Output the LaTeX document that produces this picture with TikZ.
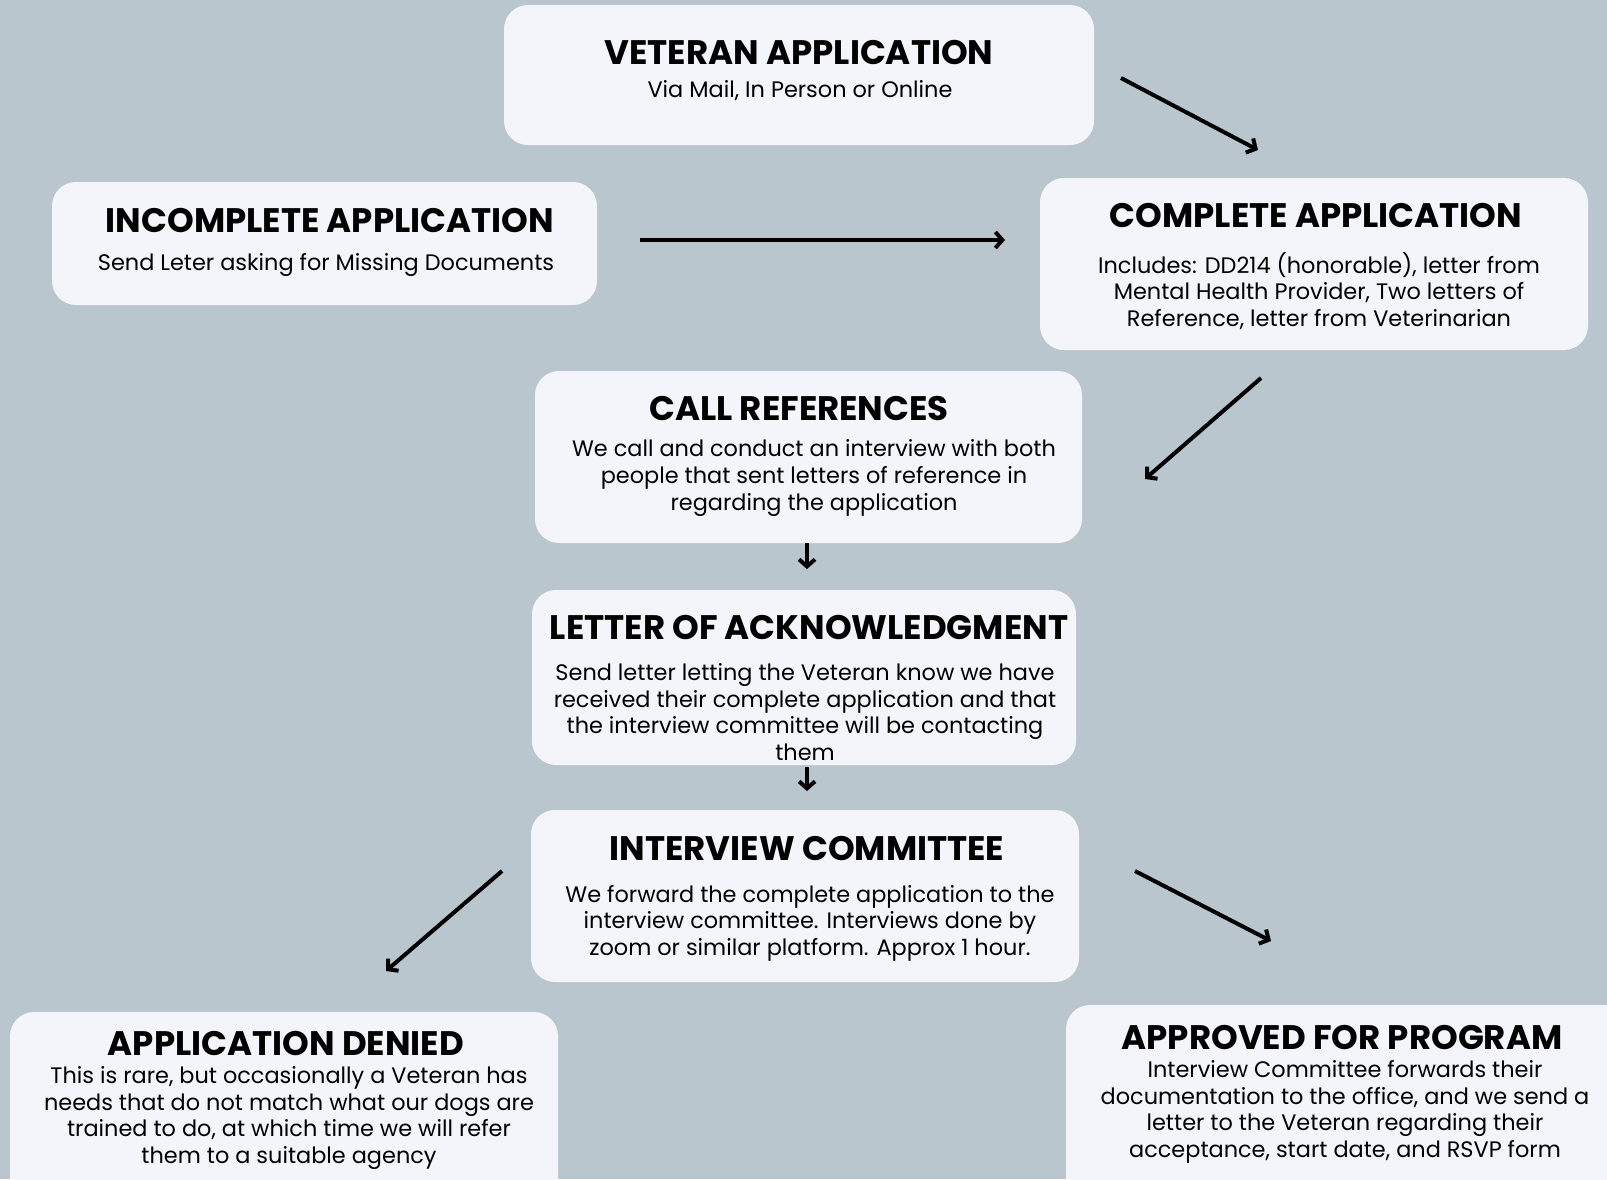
\documentclass[tikz,border=0pt]{standalone}
\usepackage{fontspec}
\setmainfont{Poppins}
\usetikzlibrary{arrows.meta}
\definecolor{bgblue}{HTML}{B9C6CE}
\definecolor{boxwhite}{HTML}{F4F5FA}

\begin{document}
\begin{tikzpicture}[x=1pt,y=-1pt,->,>={Straight Barb[length=7pt,width=16pt]},line width=4pt,
  box/.style={fill=boxwhite,rounded corners=24pt,inner sep=0pt},
  title/.style={font=\fontsize{34}{38}\selectfont\bfseries,inner sep=0pt},
  body/.style={font=\fontsize{22.4}{26.6}\selectfont,align=center,inner sep=0pt}]
  \clip (0,0) rectangle (1607,1179);
  \fill[bgblue] (0,0) rectangle (1607,1179);

  % boxes
  \node[box,minimum width=590pt,minimum height=140pt] (vet) at (799,75) {};
  \node[box,minimum width=545pt,minimum height=123pt] (inc) at (324.5,243.5) {};
  \node[box,minimum width=548pt,minimum height=172pt] (comp) at (1314,264) {};
  \node[box,minimum width=547pt,minimum height=172pt] (call) at (808.5,457) {};
  \node[box,minimum width=544pt,minimum height=175pt] (ack) at (804,677.5) {};
  \node[box,minimum width=548pt,minimum height=172pt] (intv) at (805,896) {};
  \node[box,minimum width=548pt,minimum height=200pt] (deny) at (284,1112) {};
  \node[box,minimum width=564pt,minimum height=200pt] (appr) at (1348,1105) {};

  % texts
  \node[title] (vett) at (799,53) {VETERAN APPLICATION};
  \node[body] (vetb) at (800,91) {Via Mail, In Person or Online};
  \node[title] (inct) at (330,221) {INCOMPLETE APPLICATION};
  \node[body] (incb) at (326,265) {Send Leter asking for Missing Documents};
  \node[title] (compt) at (1316,216) {COMPLETE APPLICATION};
  \node[body] (compb) at (1319,291) {Includes: DD214 (honorable), letter from\\
    Mental Health Provider, Two letters of\\ Reference, letter from Veterinarian};
  \node[title] (callt) at (799,409) {CALL REFERENCES};
  \node[body] (callb) at (814,478) {We call and conduct an interview with both\\
    people that sent letters of reference in\\ regarding the application};
  \node[title] (ackt) at (809,628) {LETTER OF ACKNOWLEDGMENT};
  \node[body] (ackb) at (805,712) {Send letter letting the Veteran know we have\\
    received their complete application and that\\
    the interview committee will be contacting\\ them};
  \node[title] (intvt) at (807,849) {INTERVIEW COMMITTEE};
  \node[body] (intvb) at (810,923) {We forward the complete application to the\\
    interview committee. Interviews done by\\ zoom or similar platform. Approx 1 hour.};
  \node[title] (denyt) at (286,1043) {APPLICATION DENIED};
  \node[body] (denyb) at (289,1118) {This is rare, but occasionally a Veteran has\\
    needs that do not match what our dogs are\\
    trained to do, at which time we will refer\\ them to a suitable agency};
  \node[title] (apprt) at (1342,1037) {APPROVED FOR PROGRAM};
  \node[body] (apprb) at (1345,1112) {Interview Committee forwards their\\
    documentation to the office, and we send a\\
    letter to the Veteran regarding their\\ acceptance, start date, and RSVP form};

  % arrow ends
  \coordinate (a1) at (1121,78);  \coordinate (b1) at (1258,150);
  \coordinate (a2) at (640,240);  \coordinate (b2) at (1005,240);
  \coordinate (a3) at (1261,378); \coordinate (b3) at (1145,479);
  \coordinate (a4) at (807,543);  \coordinate (b4) at (807,569);
  \coordinate (a5) at (807,767);  \coordinate (b5) at (807,791);
  \coordinate (a6) at (502,871);  \coordinate (b6) at (386,971);
  \coordinate (a7) at (1135,871); \coordinate (b7) at (1271,941);

  \draw (a1) -- (b1);
  \draw (a2) -- (b2);
  \draw (a3) -- (b3);
  \draw (a4) -- (b4);
  \draw (a5) -- (b5);
  \draw (a6) -- (b6);
  \draw (a7) -- (b7);
\end{tikzpicture}
\end{document}
